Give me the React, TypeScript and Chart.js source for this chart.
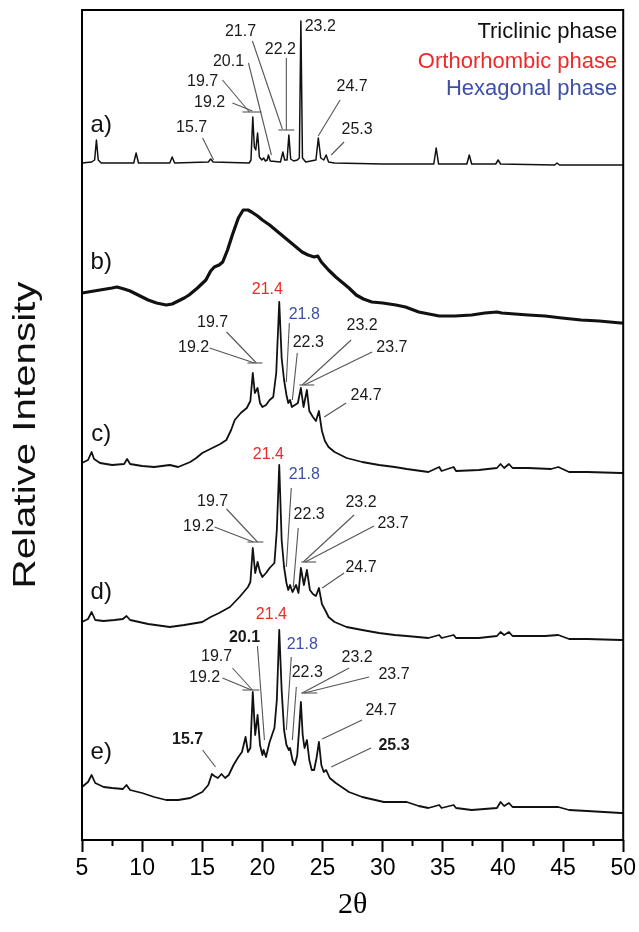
import React, { useEffect, useRef } from "react";
import { Chart, registerables } from "chart.js";

Chart.register(...registerables);

// ---- x axis (2θ) ----
const xMin = 5;
const xMax = 50;
const xStep = 2.5;

// ---- vertical offsets of the stacked patterns ----
const traceNames = ["a)", "b)", "c)", "d)", "e)"];
const traceOffsets = [675, 515, 367, 200, 27];
const traceNameTheta = 6.6;
const traceNameY = [715, 578, 406, 248, 88];

// ---- patterns: [2θ, relative intensity] ----
const traceA: number[][] = [
  [5.0, 2], [5.8, 3], [6.05, 5], [6.2, 25], [6.35, 5], [6.6, 2], [9.3, 2], [9.5, 12], [9.7, 2],
  [12.3, 2], [12.5, 8], [12.7, 2], [15.5, 3], [15.7, 6], [15.9, 3], [18.9, 2], [19.05, 5],
  [19.2, 48], [19.33, 18], [19.45, 15], [19.6, 32], [19.75, 8], [19.95, 5], [20.1, 7],
  [20.25, 4], [20.4, 5], [20.5, 10], [20.65, 4], [21.5, 3], [21.7, 13], [21.85, 5],
  [22.05, 5], [22.2, 30], [22.35, 6], [22.6, 4], [22.9, 5], [23.07, 7], [23.2, 144],
  [23.33, 7], [23.6, 3], [24.45, 5], [24.65, 27], [24.85, 7], [25.1, 5], [25.3, 10],
  [25.5, 3], [26, 2], [30, 1], [34.25, 1], [34.45, 17], [34.65, 1], [37.0, 1], [37.2, 10],
  [37.4, 1], [39.4, 1], [39.6, 5], [39.8, 1], [44.3, 0], [44.5, 2], [44.7, 0], [50, 0],
];

const traceB: number[][] = [
  [5.0, 32], [5.5, 33], [6.0, 34], [6.5, 35], [7.0, 36], [7.5, 37], [7.9, 38], [8.5, 36],
  [9.0, 34], [9.5, 31], [10.0, 28], [10.5, 25], [11.2, 22], [12.0, 20], [12.5, 21],
  [13.0, 24], [13.5, 27], [13.9, 30], [14.6, 37], [15.3, 45], [15.7, 54], [16.0, 58],
  [16.4, 60], [16.7, 63], [17.1, 75], [17.5, 90], [18.0, 107], [18.4, 115], [18.8, 115],
  [19.1, 113], [19.6, 109], [20.0, 105], [20.6, 100], [21.1, 95], [21.5, 91], [21.9, 87],
  [22.6, 80], [23.3, 73], [23.8, 70], [24.3, 68], [24.6, 69], [24.9, 63], [25.5, 55],
  [26.1, 48], [26.7, 42], [27.2, 37], [27.8, 30], [28.4, 26], [29.1, 23], [30.0, 22],
  [31.1, 20], [31.9, 18], [33.0, 13], [34.7, 9], [36.0, 9], [37.4, 10], [38.5, 12],
  [39.5, 13], [39.9, 12], [41.0, 11], [42.1, 10], [43.5, 9], [44.9, 7], [46.5, 5],
  [48.0, 4], [49.8, 2], [50, 2],
];

const traceC: number[][] = [
  [5.0, 10], [5.5, 13], [5.8, 21], [6.0, 14], [6.5, 10], [7.5, 8], [8.5, 9], [8.75, 14],
  [9.0, 9], [10, 7], [11, 6], [12.3, 8], [13, 6], [14, 11], [14.5, 15], [15, 20], [15.5, 23],
  [16, 26], [16.5, 29], [17, 33], [17.4, 43], [17.7, 53], [18.2, 60], [18.7, 65], [19.0, 72],
  [19.2, 100], [19.37, 80], [19.6, 85], [19.8, 70], [20.0, 66], [20.3, 68], [20.6, 73],
  [20.9, 76], [21.15, 100], [21.4, 171], [21.6, 115], [21.8, 93], [22.0, 78], [22.15, 70],
  [22.3, 73], [22.45, 66], [22.7, 68], [22.95, 70], [23.2, 85], [23.42, 66], [23.7, 83],
  [23.9, 62], [24.2, 56], [24.45, 52], [24.7, 62], [24.95, 42], [25.2, 32], [25.5, 26],
  [26, 21], [27, 15], [28.3, 11], [29.7, 8], [31, 6], [32, 4], [33.8, 1], [34.7, 6],
  [34.9, 2], [35.9, 6], [36.1, 2], [38, 3], [39.5, 5], [39.8, 9], [40.1, 5], [40.5, 9],
  [40.8, 5], [42.1, 5], [44, 4], [44.6, 6], [45.5, 1], [47, 1], [49.8, 0], [50, 0],
];

const traceD: number[][] = [
  [5.0, 18], [5.5, 21], [5.8, 28], [6.1, 20], [6.8, 19], [7.7, 20], [8.4, 21], [8.7, 24],
  [9.0, 20], [10.5, 16], [12.3, 13], [13.5, 15], [15.0, 18], [15.7, 23], [16.4, 27],
  [17.3, 33], [18.1, 43], [18.8, 53], [19.0, 58], [19.2, 92], [19.4, 67], [19.6, 78],
  [19.8, 68], [20.0, 63], [20.3, 67], [20.6, 72], [21.0, 77], [21.2, 110], [21.4, 175],
  [21.6, 100], [21.8, 73], [22.0, 57], [22.15, 50], [22.3, 55], [22.5, 48], [22.8, 55],
  [23.0, 47], [23.2, 72], [23.45, 55], [23.7, 70], [23.95, 50], [24.2, 46], [24.45, 44],
  [24.7, 52], [24.95, 36], [25.3, 28], [25.5, 23], [26, 18], [27, 13], [28.3, 10],
  [29.7, 7], [31, 5], [32, 4], [33.8, 2], [34.7, 5], [34.9, 2], [35.9, 5], [36.1, 2],
  [38, 2], [39.5, 4], [39.8, 8], [40.1, 5], [40.5, 8], [40.8, 4], [42.1, 4], [43.5, 4],
  [44.6, 5], [45.5, 1], [47, 1], [49.8, 0], [50, 0],
];

const traceE: number[][] = [
  [5.0, 26], [5.5, 31], [5.8, 38], [6.1, 30], [6.8, 26], [7.5, 25], [8.4, 24], [8.7, 28],
  [9.0, 23], [10, 20], [11, 16], [12, 13], [13, 13], [14, 15], [15, 21], [15.5, 28],
  [15.8, 39], [16.0, 37], [16.3, 35], [16.6, 39], [16.9, 35], [17.2, 38], [17.6, 48],
  [18.0, 56], [18.3, 61], [18.6, 76], [18.8, 61], [19.0, 65], [19.2, 121], [19.4, 78],
  [19.6, 98], [19.8, 68], [20.0, 58], [20.1, 63], [20.3, 56], [20.6, 71], [21.0, 85],
  [21.2, 113], [21.4, 183], [21.6, 123], [21.8, 83], [22.0, 68], [22.2, 63], [22.3, 65],
  [22.5, 53], [22.7, 48], [22.9, 58], [23.05, 83], [23.2, 111], [23.35, 78], [23.5, 65],
  [23.7, 73], [23.9, 53], [24.1, 43], [24.3, 43], [24.5, 55], [24.7, 71], [24.9, 48],
  [25.1, 41], [25.3, 43], [25.6, 35], [26.1, 30], [27.2, 21], [28.3, 16], [30.1, 11],
  [32.0, 11], [33.0, 7], [33.8, 5], [34.7, 8], [34.9, 5], [35.9, 8], [36.1, 5], [37.4, 3],
  [39.5, 5], [39.8, 11], [40.1, 7], [40.5, 10], [40.8, 6], [42.1, 6], [44.6, 6], [45.5, 3],
  [47, 2], [49.8, 0], [50, 0],
];

const traces = [traceA, traceB, traceC, traceD, traceE];
const traceWidths = [1.5, 3.2, 1.8, 1.8, 1.8];

// ---- peak labels: [text, 2θ, y, colour, bold] ----
const RED = "#ec2a2a";
const BLUE = "#3f4fa6";
const INK = "#1a1a1a";
const peakLabels: [string, number, number, string, boolean][] = [
  // a)
  ["23.2", 24.81, 813, INK, false], ["22.2", 21.49, 790, INK, false], ["21.7", 18.18, 808, INK, false],
  ["20.1", 17.18, 778, INK, false], ["19.7", 15.03, 758, INK, false], ["19.2", 15.61, 737, INK, false],
  ["15.7", 14.12, 712, INK, false], ["24.7", 27.46, 753, INK, false], ["25.3", 27.87, 710, INK, false],
  // c)
  ["21.4", 20.41, 550, RED, false], ["21.8", 23.48, 525, BLUE, false], ["19.7", 15.86, 517, INK, false],
  ["19.2", 14.28, 492, INK, false], ["22.3", 23.81, 497, INK, false], ["23.2", 28.29, 514, INK, false],
  ["23.7", 30.77, 492, INK, false], ["24.7", 28.62, 444, INK, false],
  // d)
  ["21.4", 20.5, 385, RED, false], ["21.8", 23.48, 365, BLUE, false], ["19.7", 15.86, 338, INK, false],
  ["19.2", 14.7, 313, INK, false], ["22.3", 23.89, 325, INK, false], ["23.2", 28.2, 337, INK, false],
  ["23.7", 30.86, 316, INK, false], ["24.7", 28.2, 272, INK, false],
  // e)
  ["21.4", 20.75, 225, RED, false], ["20.1", 18.51, 202, INK, true], ["21.8", 23.31, 195, BLUE, false],
  ["19.7", 16.19, 183, INK, false], ["19.2", 15.19, 162, INK, false], ["22.3", 23.73, 167, INK, false],
  ["23.2", 27.87, 182, INK, false], ["23.7", 30.94, 165, INK, false], ["24.7", 29.86, 129, INK, false],
  ["25.3", 30.94, 94, INK, true], ["15.7", 13.78, 100, INK, true],
];

// ---- leader lines: [2θ1, y1, 2θ2, y2] ----
const leaderLines: number[][] = [
  // a)
  [19.17, 799, 21.66, 711], [21.99, 782, 21.99, 710], [21.33, 710, 22.65, 710],
  [18.84, 777, 20.75, 685], [16.68, 760, 18.92, 728], [17.51, 737, 19.17, 729],
  [18.34, 728, 19.92, 728], [15.03, 702, 15.94, 680], [26.46, 740, 24.64, 704],
  [26.79, 698, 25.72, 685],
  // c)
  [22.24, 517, 21.99, 458], [17.02, 508, 19.5, 477], [15.61, 492, 19.34, 477],
  [18.76, 477, 20.0, 477], [22.9, 487, 22.49, 440], [27.38, 500, 23.31, 455],
  [29.12, 488, 23.48, 455], [23.07, 455, 24.31, 455], [26.96, 437, 25.14, 423],
  // d)
  [22.4, 352, 21.99, 273], [17.02, 331, 19.59, 298], [16.02, 313, 19.25, 298],
  [18.76, 298, 20.08, 298], [22.98, 312, 22.57, 253], [27.62, 325, 23.4, 278],
  [29.28, 314, 23.56, 278], [23.23, 278, 24.47, 278], [26.79, 267, 24.97, 252],
  // e)
  [19.59, 194, 20.17, 100], [22.4, 183, 21.99, 110], [17.51, 172, 19.17, 150],
  [16.68, 162, 19.09, 150], [18.34, 150, 19.75, 150], [22.82, 153, 22.49, 100],
  [27.21, 172, 23.31, 147], [28.87, 163, 23.48, 147], [23.23, 147, 24.56, 147],
  [28.29, 120, 24.97, 101], [29.03, 92, 25.72, 73], [15.03, 90, 16.1, 73],
];

// ---- phase legend ----
const phaseNames = ["Triclinic phase", "Orthorhombic phase", "Hexagonal phase"];
const phaseColors = ["#111111", RED, BLUE];
const phaseTheta = 49.5;
const phaseY = [802, 772, 745];

const SANS = "'Liberation Sans', Arial, Helvetica, sans-serif";

const annotationPlugin = {
  id: "xrdAnnotations",
  afterDatasetsDraw(chart: any) {
    const { ctx, chartArea } = chart;
    const xs = chart.scales.x;
    const ys = chart.scales.y;
    const px = (t: number) => xs.getPixelForValue(t);
    const py = (v: number) => ys.getPixelForValue(v);
    ctx.save();

    // leader lines
    ctx.strokeStyle = "#555";
    ctx.lineWidth = 1.1;
    for (const [t1, v1, t2, v2] of leaderLines) {
      ctx.beginPath();
      ctx.moveTo(px(t1), py(v1));
      ctx.lineTo(px(t2), py(v2));
      ctx.stroke();
    }

    // peak labels
    ctx.textAlign = "center";
    ctx.textBaseline = "middle";
    for (const [text, t, v, color, bold] of peakLabels) {
      ctx.font = `${bold ? "bold " : ""}16px ${SANS}`;
      ctx.fillStyle = color;
      ctx.fillText(text, px(t), py(v));
    }

    // trace names
    ctx.font = `24px ${SANS}`;
    ctx.fillStyle = "#111";
    traceNames.forEach((n, i) => ctx.fillText(n, px(traceNameTheta), py(traceNameY[i])));

    // phase legend
    ctx.textAlign = "right";
    ctx.textBaseline = "alphabetic";
    ctx.font = `22px ${SANS}`;
    phaseNames.forEach((n, i) => {
      ctx.fillStyle = phaseColors[i];
      ctx.fillText(n, px(phaseTheta), py(phaseY[i]));
    });

    // frame
    ctx.strokeStyle = "#000";
    ctx.lineWidth = 2;
    ctx.strokeRect(chartArea.left, chartArea.top, chartArea.right - chartArea.left, chartArea.bottom - chartArea.top);

    // y axis title (slightly stretched like the source figure)
    ctx.translate(35, (chartArea.top + chartArea.bottom) / 2 + 10);
    ctx.rotate(-Math.PI / 2);
    ctx.scale(1.3, 1);
    ctx.textAlign = "center";
    ctx.textBaseline = "alphabetic";
    ctx.font = `31px ${SANS}`;
    ctx.fillStyle = "#111";
    ctx.fillText("Relative Intensity", 0, 0);

    ctx.restore();
  },
};

export default function App() {
  const ref = useRef<HTMLCanvasElement>(null);

  useEffect(() => {
    const canvas = ref.current;
    if (!canvas) return;
    const datasets = traces.map((tr, i) => ({
      label: traceNames[i],
      data: tr.map(([t, v]) => ({ x: t, y: v + traceOffsets[i] })),
      borderColor: "#111",
      borderWidth: traceWidths[i],
      pointRadius: 0,
      tension: 0,
      fill: false,
      borderJoinStyle: "round" as const,
    }));

    const chart = new Chart(canvas, {
      type: "line",
      data: { datasets },
      options: {
        animation: false,
        responsive: false,
        maintainAspectRatio: false,
        layout: { padding: { top: 10, right: 14, left: 0, bottom: 0 } },
        plugins: { legend: { display: false }, tooltip: { enabled: false } },
        scales: {
          x: {
            type: "linear",
            min: xMin,
            max: xMax,
            afterFit: (scale: any) => {
              scale.height = 92;
            },
            afterBuildTicks: (scale: any) => {
              const ticks = [];
              for (let v = xMin; v <= xMax + 1e-9; v += xStep) ticks.push({ value: v });
              scale.ticks = ticks;
            },
            ticks: {
              autoSkip: false,
              maxRotation: 0,
              minRotation: 0,
              padding: 3,
              color: "#000",
              font: { family: SANS, size: 23 },
              callback: (v: any) => (Number(v) % 5 === 0 ? String(v) : ""),
            },
            grid: {
              display: true,
              drawOnChartArea: false,
              drawTicks: true,
              tickLength: 12,
              tickColor: "#000",
              tickWidth: 2,
              tickBorderDash: (ctx: any) => (ctx.tick && ctx.tick.value % 5 === 0 ? [] : [6, 100]),
            },
            border: { display: false },
            title: {
              display: true,
              text: "2θ",
              color: "#000",
              font: { family: "'Liberation Serif', 'Times New Roman', serif", size: 30 },
              padding: { top: 0, bottom: 9 },
            },
          },
          y: {
            type: "linear",
            min: 0,
            max: 830,
            afterFit: (scale: any) => {
              scale.width = 82;
            },
            ticks: { display: false },
            grid: { display: false, drawTicks: false },
            border: { display: false },
          },
        },
      },
      plugins: [annotationPlugin],
    });
    return () => chart.destroy();
  }, []);

  return (
    <div style={{ position: "absolute", left: 0, top: 0, width: 639, height: 932, background: "#fff" }}>
      <canvas ref={ref} width={639} height={932} style={{ display: "block", width: 639, height: 932 }} />
    </div>
  );
}
